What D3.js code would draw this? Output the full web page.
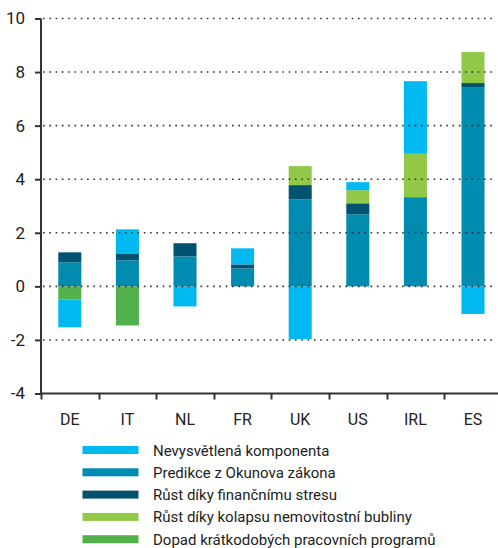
<!DOCTYPE html>
<html>
<head>
<meta charset="utf-8">
<script src="https://cdn.jsdelivr.net/npm/d3@7"></script>
<style>
  html, body { margin: 0; padding: 0; background: #fff; }
  svg { display: block; font-family: Roboto, "DejaVu Sans", sans-serif; }
</style>
</head>
<body>
<svg id="chart" width="498" height="548"></svg>
<script>
// Data
const categories = ["DE", "IT", "NL", "FR", "UK", "US", "IRL", "ES"];
const seriesNames = [
  "Nevysvětlená komponenta",
  "Predikce z Okunova zákona",
  "Růst díky finančnímu stresu",
  "Růst díky kolapsu nemovitostní bubliny",
  "Dopad krátkodobých pracovních programů"
];
const unexplained = [-1.04, 0.90, -0.75, 0.60, -1.97, 0.30, 2.71, -1.03];
const okun        = [0.90, 0.97, 1.12, 0.67, 3.25, 2.69, 3.33, 7.44];
const finStress   = [0.37, 0.26, 0.49, 0.15, 0.53, 0.41, 0.00, 0.15];
const housing     = [0.00, 0.00, 0.00, 0.00, 0.71, 0.49, 1.62, 1.16];
const shortWork   = [-0.49, -1.46, 0.00, 0.00, 0.00, 0.00, 0.00, 0.00];
const yTicks = [-4, -2, 0, 2, 4, 6, 8, 10];
const colors = ["#00b9f1", "#008bb0", "#00526e", "#92c847", "#52b14a"];

// Stack order: Okun, fin stress, housing, short work, unexplained (outermost)
const stackOrder = [1, 2, 3, 4, 0];
const seriesData = [unexplained, okun, finStress, housing, shortWork];

const svg = d3.select("#chart");
const x = d3.scaleBand().domain(categories).range([41, 501.8]).paddingInner(0.6).paddingOuter(0.3);
const y = d3.scaleLinear().domain([-4, 10]).range([393.5, 18.5]);

// bars
const rects = [];
categories.forEach((c, i) => {
  let pos = 0, neg = 0;
  stackOrder.forEach(s => {
    const v = seriesData[s][i];
    if (v === 0) return;
    let y0, y1;
    if (v > 0) { y0 = pos; y1 = pos + v; pos = y1; }
    else { y0 = neg; y1 = neg + v; neg = y1; }
    rects.push({c, s, y0, y1});
  });
});
svg.append("g").selectAll("rect").data(rects).join("rect")
  .attr("x", d => x(d.c))
  .attr("width", x.bandwidth())
  .attr("y", d => y(Math.max(d.y0, d.y1)))
  .attr("height", d => Math.abs(y(d.y0) - y(d.y1)))
  .attr("fill", d => colors[d.s]);

// gridlines (dotted, over bars)
svg.append("g").selectAll("line").data(yTicks.filter(t => t > -4)).join("line")
  .attr("x1", 43).attr("x2", 496)
  .attr("y1", d => y(d)).attr("y2", d => y(d))
  .attr("stroke", "#333").attr("stroke-width", 1.6)
  .attr("stroke-dasharray", "1.6,4.7");

// y axis
const yAxis = svg.append("g").attr("transform", "translate(41,0)")
  .call(d3.axisLeft(y).tickValues(yTicks).tickSize(6).tickPadding(10)
    .tickFormat(d => String(d)));
yAxis.select(".domain").attr("d", `M0,${y(10)}V${y(-4)}`).attr("stroke", "#333").attr("stroke-width", 2);
yAxis.selectAll(".tick line").attr("stroke", "#333").attr("stroke-width", 2);
yAxis.selectAll(".tick text").attr("font-size", 17).attr("fill", "#222")
  .attr("font-family", "Roboto, sans-serif");

// x axis
const bounds = categories.map(c => x(c) - x.step() * x.paddingInner() / 2);
const xg = svg.append("g");
xg.append("line").attr("x1", 41).attr("x2", 498).attr("y1", y(-4)).attr("y2", y(-4))
  .attr("stroke", "#333").attr("stroke-width", 2);
xg.selectAll("line.tk").data(bounds).join("line").attr("class", "tk")
  .attr("x1", d => Math.round(d) + 0.5).attr("x2", d => Math.round(d) + 0.5)
  .attr("y1", y(-4)).attr("y2", y(-4) + 6)
  .attr("stroke", "#333").attr("stroke-width", 2);
xg.selectAll("text").data(categories).join("text")
  .attr("x", d => x(d) + x.bandwidth() / 2)
  .attr("y", 425)
  .attr("text-anchor", "middle")
  .attr("font-size", 16).attr("fill", "#222")
  .text(d => d);

// legend
const lg = svg.append("g");
const rowY = [450, 472.3, 494.6, 516.9, 539.2];
seriesNames.forEach((n, i) => {
  lg.append("rect").attr("x", 82.5).attr("y", rowY[i] - 4).attr("width", 56).attr("height", 8)
    .attr("fill", colors[i]);
  lg.append("text").attr("x", 153).attr("y", rowY[i] + 5.5)
    .attr("font-size", 15).attr("fill", "#222").text(n);
});
</script>
</body>
</html>
